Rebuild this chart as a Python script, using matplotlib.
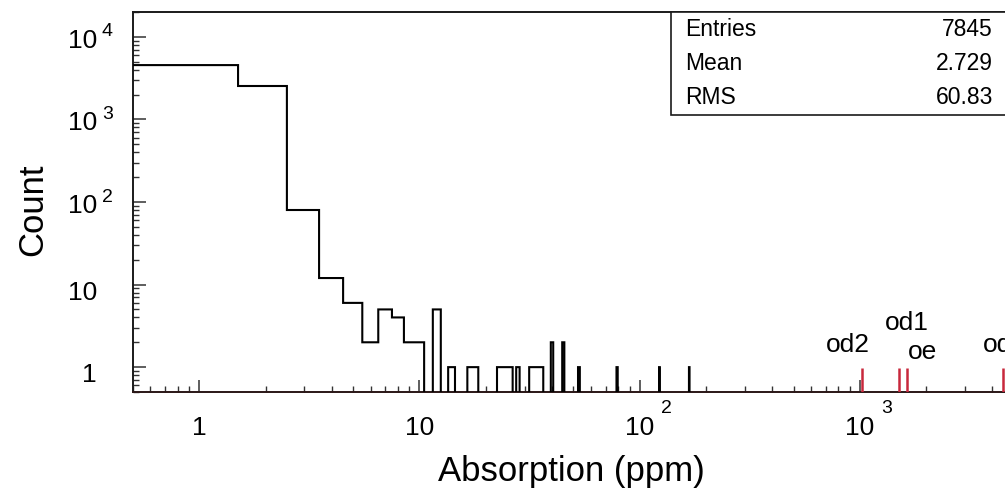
import numpy as np
import matplotlib
matplotlib.use("Agg")
import matplotlib.pyplot as plt
from matplotlib import transforms
from matplotlib.ticker import LogLocator, NullFormatter
from matplotlib.patches import Rectangle

plt.rcParams['font.family'] = ['Liberation Sans', 'DejaVu Sans']

# Histogram contents: unit-width bins centred on integer ppm values
bin_centers = [1, 2, 3, 4, 5, 6, 7, 8, 9, 10, 12, 14, 17, 18,
               23, 24, 25, 26, 28, 32, 33, 34, 35, 36, 40, 45, 53, 79, 123, 168]
bin_counts = [4550, 2540, 80, 12, 6, 2, 5, 4, 2, 2, 5, 1, 1, 1,
              1, 1, 1, 1, 1, 1, 1, 1, 1, 1, 2, 2, 1, 1, 1, 1]

# Statistics box
stat_names = ["Entries", "Mean", "RMS"]
stat_values = ["7845", "2.729", "60.83"]

# Reference markers (ppm)
marker_names = ["od2", "od1", "oe", "od3"]
marker_values = [1025, 1505, 1630, 4460]

x_major = [1, 10, 100, 1000]
y_major = [1, 10, 100, 1000, 10000]

W, H, DPI = 1005, 490, 100
fig = plt.figure(figsize=(W / DPI, H / DPI), dpi=DPI)
fig.patch.set_facecolor("white")

X0, X1 = 133, 1080
Y0, Y1 = 392, 12
ax = fig.add_axes([X0 / W, 1 - Y0 / H, (X1 - X0) / W, (Y0 - Y1) / H])
ax.set_xscale("log")
ax.set_yscale("log")
XMIN, XMAX = 0.5, 1e4
YMIN, YMAX = 0.5, 2e4
ax.set_xlim(XMIN, XMAX)
ax.set_ylim(YMIN, YMAX)

# Build the full histogram array
nbins = 10000
edges = np.arange(0.5, nbins + 1.5, 1.0)
counts = np.zeros(nbins)
for c, n in zip(bin_centers, bin_counts):
    counts[c - 1] = n
draw = np.where(counts > 0, counts, 1e-3)
ax.stairs(draw, edges, color="black", lw=1.5, baseline=None, zorder=3)

# Reference marker lines
for v in marker_values:
    ax.plot([v, v], [YMIN, 0.97], color="#c8283c", lw=1.8, zorder=4,
            solid_capstyle="butt")

# Frame
for side in ["top", "left", "bottom"]:
    ax.spines[side].set_linewidth(1.4)
    ax.spines[side].set_color("#1a1a1a")
ax.spines["bottom"].set_color("#2a1616")
ax.spines["right"].set_visible(False)

ax.xaxis.set_major_locator(LogLocator(base=10, numticks=20))
ax.xaxis.set_minor_locator(LogLocator(base=10, subs=np.arange(2, 10), numticks=100))
ax.yaxis.set_major_locator(LogLocator(base=10, numticks=20))
ax.yaxis.set_minor_locator(LogLocator(base=10, subs=np.arange(2, 10), numticks=100))
ax.xaxis.set_minor_formatter(NullFormatter())
ax.yaxis.set_minor_formatter(NullFormatter())
ax.tick_params(which="both", direction="in", top=False, right=False,
               labelbottom=False, labelleft=False, color="#333333")
ax.tick_params(which="major", length=9, width=1.1)
ax.tick_params(which="minor", length=4.5, width=1.0)


def off(dx, dy):
    return transforms.ScaledTranslation(dx / DPI, -dy / DPI, fig.dpi_scale_trans)


TICK_FS = 19
SUP_FS = 14

# y tick labels
ytr = transforms.blended_transform_factory(fig.transFigure, ax.transData)
for v in y_major:
    e = int(round(np.log10(v)))
    if e >= 2:
        fig.text(97 / W, v, "10", ha="right", va="center", fontsize=TICK_FS,
                 transform=ytr + off(0, 4))
        fig.text(102 / W, v, str(e), ha="left", va="center", fontsize=SUP_FS,
                 transform=ytr + off(0, -5))
    else:
        fig.text(97 / W, v, str(int(v)), ha="right", va="center",
                 fontsize=TICK_FS, transform=ytr + off(0, 8))

# x tick labels
xtr = transforms.blended_transform_factory(ax.transData, fig.transFigure)
for v in x_major:
    e = int(round(np.log10(v)))
    if e >= 2:
        fig.text(v, 1 - 428 / H, "10", ha="center", va="center",
                 fontsize=TICK_FS, transform=xtr)
        fig.text(v, 1 - 408 / H, str(e), ha="left", va="center",
                 fontsize=SUP_FS, transform=xtr + off(21, 0))
    else:
        fig.text(v, 1 - 428 / H, str(int(v)), ha="center", va="center",
                 fontsize=TICK_FS, transform=xtr)

# Axis titles
fig.text(571 / W, 1 - 471 / H, "Absorption (ppm)", ha="center", va="center",
         fontsize=25)
fig.text(33 / W, 1 - 210 / H, "Count", ha="center", va="center",
         rotation=90, fontsize=25)

# Marker labels
label_pos = [(848, 345), (907, 323), (922, 352), (1005, 345)]
for name, (px, py) in zip(marker_names, label_pos):
    fig.text(px / W, 1 - py / H, name, ha="center", va="center", fontsize=19)

# Statistics box
box = Rectangle((670.5 / W, 1 - 115 / H), (1010 - 670.5) / W, (115 - 12) / H,
                transform=fig.transFigure, facecolor="white",
                edgecolor="#1a1a1a", lw=1.2, zorder=5)
fig.patches.append(box)
for i, (n, v) in enumerate(zip(stat_names, stat_values)):
    yy = 1 - (29 + 34.5 * i) / H
    fig.text(685 / W, yy, n, ha="left", va="center", fontsize=16.5, zorder=6)
    fig.text(993 / W, yy, v, ha="right", va="center", fontsize=16.5, zorder=6)

fig.savefig("out.png", dpi=DPI)
